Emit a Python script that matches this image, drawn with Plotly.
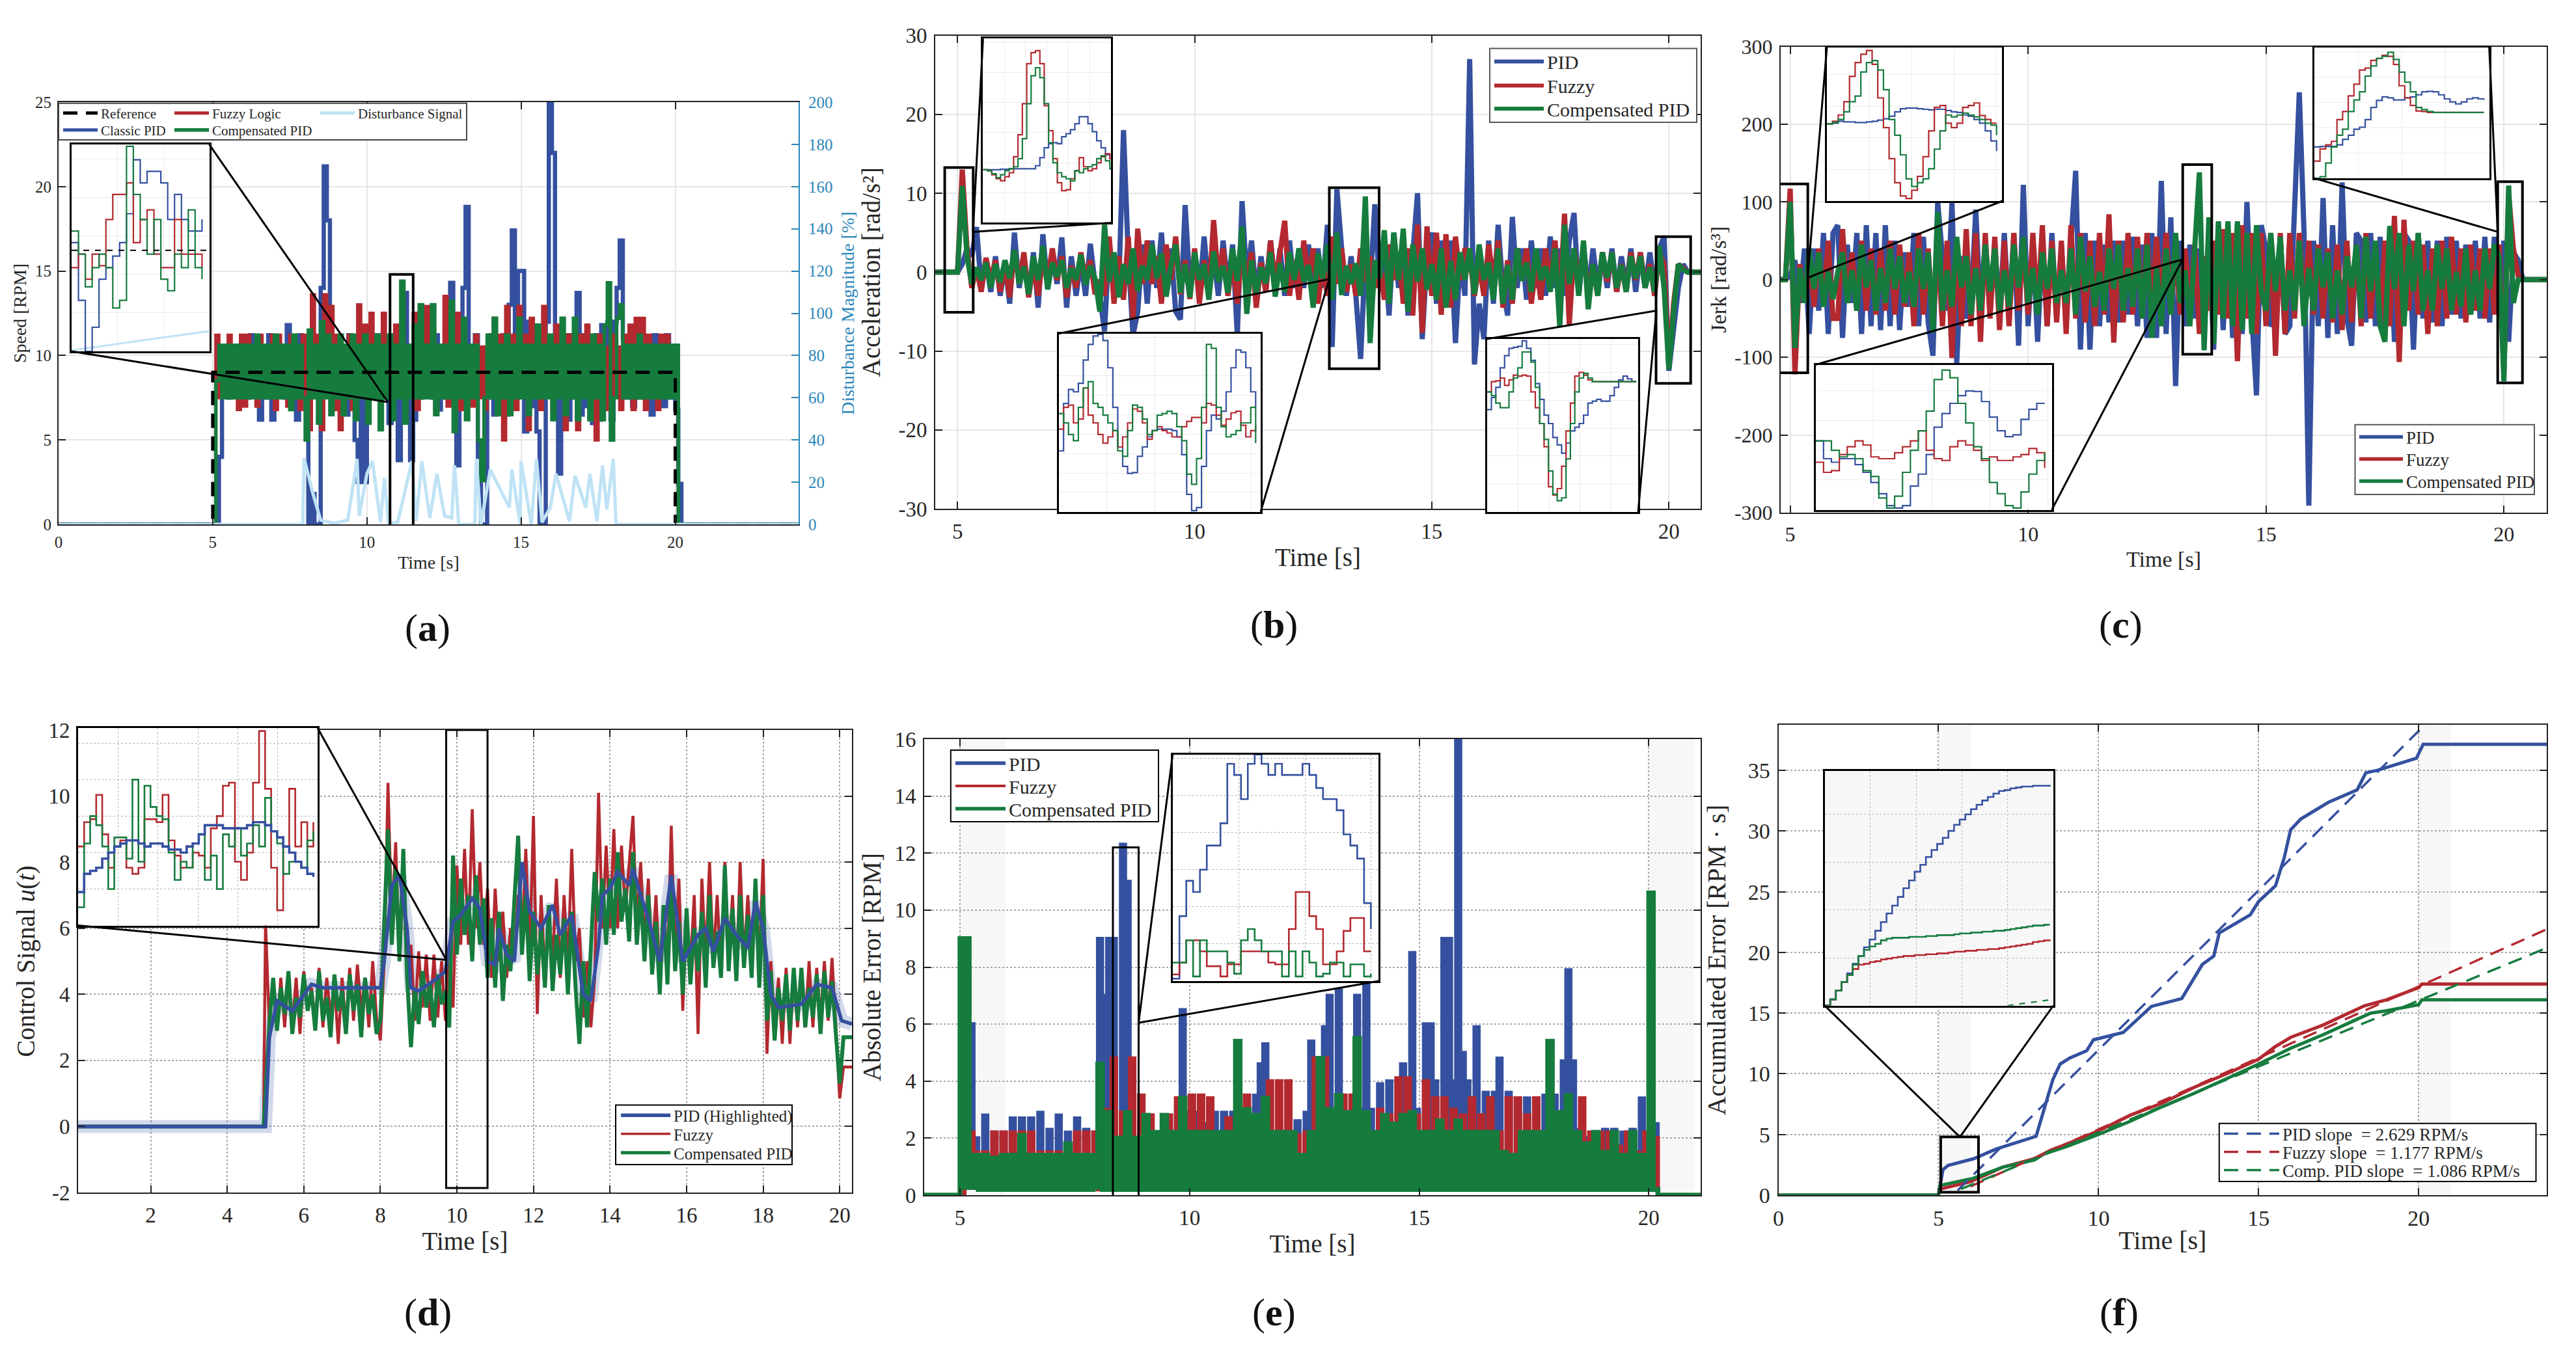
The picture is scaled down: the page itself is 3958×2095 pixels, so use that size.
import plotly.graph_objects as go

WIDTH, HEIGHT = 3958, 2095
BLUE, RED, GREEN = "#34509f", "#b3292f", "#167c3e"
SKY = "#bfe3f5"
AXIS_BLUE = "#2a86b9"
SHADE = "#f8f7f8"
FONT = "Liberation Serif"

# ---------- (a) speed, sampled every 0.1 s from t = 5 ----------
speed_pid = [
    0,0,4,9,10.5,7.5,9.7,8.2,10.5,7.5,
    10.5,7.5,11.2,8.1,10.5,6.2,10.5,7.5,11.2,6.2,
    10.5,8.1,10.5,7.5,11.8,7,10.5,6.2,11.2,7.5,
    9,0,1.8,0,0,14,21.2,18,9,7.5,
    10.5,8.1,10.5,6.5,11.2,7.5,5,2.5,9.5,2.5,
    10.5,7.5,11.2,8.1,11.2,7.5,10.5,6,11.2,7.5,
    3.8,11.2,13.7,7.5,3.8,6.2,10.5,7.5,11.2,8.1,
    10.5,7.5,11.2,6.8,10.5,7.5,11.2,14.3,7.5,3.5,
    8,14,18.8,9,7.5,11.2,4,0,0,7.5,
    11.2,6.5,10.5,7.5,11.2,6.5,13,17.4,7.5,15,
    15,5.5,12,7,11,5.5,0,0,12,25,
    22,9,3,7.5,11.2,6.2,11.2,7.5,13.7,6.5,
    11.2,7,10.5,6,11.2,6.2,11.8,7.5,12,6.2,
    12,14,16.8,11,7.5,11.2,7,10.5,7.5,11.2,
    7.5,10.5,6.5,11.2,7.5,10.5,7,11.2,7.5,10.5,
    6.8,2.4,0]
speed_fuzzy = [
    0,11.2,7.5,10.5,8,11.2,7.5,10.5,6.8,11.2,
    7,11.2,7.5,10.5,7,11.2,8,10.5,7.5,11.2,
    6.8,11.2,7.5,10.5,7,11.2,7.5,10.5,6.8,11.2,
    7.5,5.6,13.6,7.5,11.2,5.6,13.6,7.5,12.9,6.8,
    11.2,5.6,10.5,7.5,11.2,6.8,10.5,13,7.5,11.8,
    7,12.5,7.5,11.2,6.8,12.5,7.5,11.2,6.8,11.8,
    7.5,11.2,6.2,10.5,7.5,12.5,6.8,12.9,7.5,12.9,
    7.5,11.2,6.8,10.5,7.5,13.5,7,11.2,7.5,12.5,
    6.8,11.8,7.5,10.5,7,11.2,7.5,10.5,6.8,11.2,
    7.5,12.2,7,11.2,5,12.9,7.5,11.2,6.8,12.9,
    7.5,11.2,5.6,12.2,7.5,11.2,6.8,12.9,7.5,11.2,
    6.8,11.8,7.5,10.5,5.6,11.2,7.5,10.5,5.6,11.2,
    7.5,11.8,6.8,10.5,5,11.2,7.5,10.5,6.8,11.2,
    7.5,10.5,6.8,11.2,7.5,11.8,6.8,12.2,7.5,12.2,
    6.8,11.2,7.5,10.5,6.8,11.2,7.5,11.2,7.5,10.5,
    7.5,0,0]
speed_comp = [
    0,8.5,10.6,7.5,10.6,7.5,10.6,7.5,10.6,7.5,
    10.6,7.5,10.6,7.5,11.2,7.5,10.6,7.5,10.6,7.5,
    11.2,7.5,10.6,7.5,10.6,6.8,11.2,7.5,10.6,7.5,
    5,11.5,7.5,10.6,6,12,7.5,11.2,6.5,10.6,
    7.5,11.2,6.5,10.6,7.5,11.2,6.2,10.6,7.5,11.2,
    6,10.6,7.5,11.2,5.6,10.6,7.5,11.2,6.2,10.6,
    7.5,14.4,6,10.6,7.5,11.8,7.5,13,7.5,10.6,
    7.5,13,6.5,10.6,7.5,10.6,7.5,13.2,5.5,10.6,
    7.5,12.2,6.2,10.6,7.5,10.6,5,2.6,7.5,11.2,
    7.5,12.2,6.5,10.6,7.5,11.2,6.5,10.6,7.5,12.2,
    7.5,10.6,6.5,10.6,7.5,11.8,7.5,10.6,7.5,11.2,
    6.2,10.6,7.5,12.2,6.5,10.6,7.5,12.2,6.2,10.6,
    7.5,10.6,6.2,11.2,7.5,10.6,6.2,11.8,14.3,5,
    7.5,12.2,13,7.5,10.6,7.5,10.6,7.5,11.2,7.5,
    10.6,7.5,10.6,7.5,10.6,7.5,10.6,7.5,10.6,7.5,
    10.6,0,0]
reference_t = [0, 5, 5, 20, 20, 24]
reference_v = [0, 0, 9, 9, 0, 0]
disturbance_t = [0,7.92,7.96,8.26,8.5,8.93,9.38,9.68,9.75,10,10.18,10.44,10.57,10.7,11,11.46,11.6,11.78,12.04,12.27,
                 12.52,12.75,12.84,12.98,13.5,13.55,13.7,14,14.62,14.7,14.97,15,15.33,15.5,15.68,15.95,16.13,16.57,
                 16.75,17.1,17.23,17.46,17.64,17.78,17.99,18.08,24]
disturbance_v = [0,0,31.5,14,2,0.5,2,31,4,24,30,1,22,0.5,1,30,1.5,30,3,24,
                 4,3,28,0,0,31,0,26,8,26,0,30,0,31,1,8,24,1.5,
                 23,8,24,1.5,28,7,31,0,0]
inset_a_pid = [9.4,6.4,3.75,5,7.5,8.1,8.7,9.4,10.9,13.7,12.5,13.1,13.1,12.5,10.6,11.9,10.6,10,10,10.6]
inset_a_fuzzy = [8.1,8.8,7.5,8.8,8.2,10.6,11.9,11.9,12.5,9.4,10.6,11.1,8.8,8.1,8.1,10.6,8.8,8.8,8.8,8.1]
inset_a_comp = [10,8.8,7.1,8.1,8.8,8.1,6,6.4,14.4,11.9,10.6,8.8,10.6,7.5,6.9,8.8,8.1,11.1,8.1,7.5]

# ---------- (b) acceleration ----------
accel_pid = [
    0,1,3,2,5.7,-2,1.5,-2.5,2,-3,
    1,-4,5,-2,1.5,-3,2.5,-4.5,4.8,-2,
    2,-1.5,4.4,-4.5,2,-3,1.5,-3,3.6,-1.5,
    -3,-7.5,4,-3,-2,18,2,-8,-5,3.5,
    -4,4,-2,5,-3,3,-5,-6,8.5,-2,
    2,-3,4.5,-2.5,2,-3,4,-2,3.5,-8,
    9,-1,4,-3,2,-2.5,4,-2,3,-3,
    4,-2,3,-2,3.5,-2,3,-2,6,-9.5,
    10.5,3,-3,2,-3,-11,2,-2,8.6,-2,
    3,-5.5,5,-2,4,-5.5,2,10,-8.5,2,
    5,-4,4,-3,4,-9,2,-3,27,-11.7,
    -4,-8.5,4,-4,6,-2,-5.5,7,-2,3,
    -3.5,4,-2,3,-3,4.5,-2,3,-3,4,
    7.5,-3,3.5,-2.5,3,-2,2.5,-2,3,-2.5,
    2,-2,3,-2.5,2.5,-2,2.5,-2.5,3,4.5,
    -12.5,-7,-2,1,0]
accel_fuzzy = [
    0,13,3,-2,0.5,-2.5,1.8,-1,1.5,-2.5,
    1,-3.2,2.8,-1.2,2.5,-3.2,1,-3,2,-1,
    3,-1,2,-3.2,0.8,-2,2.5,-1,1.5,-2.8,
    -1,-3,4.5,-4,2,-3.5,4.5,-6,5.5,-1.5,
    4,-1.5,2,-4,3.5,-1,4.5,-2.8,1.5,-3.4,
    3,-4,1.5,-3,6.6,-1,3,-3,1.5,-4,
    3,-1,2.5,-4.5,1.2,-2.5,4,-1.5,3,6.5,
    -3,1.5,-3.5,4,-1,3,-4,1,-3,4.5,
    -1.5,3,-2.5,1,-3,3,-1.2,2,-2,1,
    -3.5,3.5,-1,2.5,-4,3,-5.5,6,-7.7,5.8,
    -3,5,-5.4,4.8,-4.5,4.5,-1,3,2,-3,
    1,-3,3.5,-1.2,4,-4.5,1.5,-4,3,-1,
    3,-4,1,-3.5,3,-1.5,4,-4,7.4,-6.7,
    3,-1,3,-3,1,-3,2.5,-1.2,2.5,-2.5,
    1,-2.5,2.5,-1,2.5,-2,1,-3,2.5,1,
    -12,-4,1,0.5,0]
accel_comp = [
    0,10.9,2,-1.5,0.6,-1,1.2,-2,1,-1.3,
    1.5,-0.8,2.8,-1.5,0.7,-2.8,2,-1,3.3,-2.2,
    1.2,-0.6,1.5,-2,0.5,-1,2.2,-1.6,0.8,-0.8,
    -5,6,-1.2,2.5,-3.2,1,-1.5,3,-2.4,0.8,
    -1,3.5,-0.8,2.4,-3.1,0.9,3.5,-2.6,1,-3.2,
    2.5,-1,1,-3.5,2.6,-1.2,0.8,-2.6,3,-1.1,
    5.8,-5.3,1.5,-2.8,0.6,-1.4,2.5,-3.1,1.1,-2.5,
    2.5,-1,3,-1.2,0.9,-4.5,2.4,-0.8,3.5,-3.5,
    5,-2.9,0.8,-1.5,1.1,-3,9.6,-9,1.5,-0.8,
    5.3,-4,5,-1,5.5,-5,3.5,-1.2,3,-2.2,
    1,-3.5,3,-4.5,1.4,-3.5,2.5,-1,3,-2.8,
    3.5,-1,1.2,-3.5,3,-4,0.9,-3.5,3,-1.1,
    1.2,-2.5,3,-1,0.7,-2.5,3,-7,6,-1.5,
    3,-3,4,-4.7,1,-3,2.5,-0.7,2.5,-2,
    0.9,-2.5,2,-0.8,2,-2,0.6,-2.5,3.3,-2.1,
    -12.3,-5,1,0.3,0]
inset_b1_pid = [0,0,0,0,0.05,0.05,0.1,0.1,0.1,0.1,0.1,0.1,0.4,1.2,2.2,2.6,2.7,2.6,3.3,3.6,4,4.6,5.3,5.3,4.6,3.8,2.9,2.2,1.5,1.3]
inset_b1_fuzzy = [0,-0.1,-0.5,-0.9,-1.1,-0.7,-0.3,1.3,3.5,6.6,10.6,11.7,11.9,10.6,6.4,3.9,1.1,-1.3,-2.1,-2,-0.9,-0.1,1.2,0.3,-0.1,0.1,0.7,1.3,1.6,1.1,-0.1]
inset_b1_comp = [0,-0.1,-0.4,-0.8,-0.5,-0.1,0.1,0.3,1.1,3.1,6.6,9.4,10.2,9.2,6.6,2.7,0.7,-0.3,-0.7,-0.9,-1.1,-0.1,-0.3,0.1,0.3,0.5,1.1,1.4,0.9,0.1,-1.3]
inset_b2_pid = [-4.4,1.7,3.5,3.2,4.3,7.3,9.3,10.4,10.6,9.8,6.3,1.2,-3.9,-6.4,-7.3,-7.2,-5.1,-3.9,-2.6,-1.8,-1.6,-1.6,-1.6,-1.8,-2.6,-4.9,-10,-12.1,-11.7,-6.4,-1.8,0.2,-0.3,0.7,3.2,6.3,8.6,8.3,6.3,3.2,1.2]
inset_b2_fuzzy = [-1.6,1.2,1.5,-0.8,-0.3,3.7,0.2,-0.8,-2.3,-3.4,-2.6,-1.8,-3.9,-2.6,-0.8,1,0.7,-0.8,-2.9,-1.8,-1.3,-1.8,-2.1,-2.6,-2.6,-1.3,-0.6,-0.1,-0.1,-0.8,1.7,1.5,0.2,-1.1,-0.3,0.5,0.7,-1.1,-2.6,-1.8,-1.1]
inset_b2_comp = [0.4,-0.8,-2.3,-3.1,1.2,3.7,4.5,1.7,1.2,0.2,-0.8,-1.8,-4.4,-5.1,-1.8,1.5,1.2,-0.3,-2.3,-1.8,0.2,0.4,0.7,0.4,-1.3,-3.1,-7.4,-8.7,-5.4,1.2,9.3,8.8,1.2,-1.3,-2.6,-2.3,-1.8,-0.8,-0.8,1.2,-3.4]
inset_b3_pid = [-3.1,-1.8,-0.7,1.4,2.7,3.5,3.6,3.7,4.3,3.5,2.2,-0.3,-2,-3.7,-4.6,-6.1,-6.9,-7.8,-6.7,-5.4,-5,-4.6,-3.7,-2.4,-2.2,-2,-2.2,-2.2,-1.6,-0.7,0.1,0.5,0.2,-0.1,-0.1]
inset_b3_fuzzy = [-1.2,-0.1,0,0.3,-0.5,0.1,0.6,0.5,0.6,0.5,-1.2,-2.9,-4.6,-7.1,-11.4,-12.3,-11.6,-9.2,-5.4,-2.4,0.5,0.9,0.6,0.1,-0.1,-0.1,-0.1,-0.1,-0.1,-0.1,-0.1,-0.1,-0.1,-0.1,-0.1]
inset_b3_comp = [-1.2,-1.6,-2.4,-2.9,-2.9,-1.2,0.3,1.4,3.1,3.1,2,-0.7,-4.6,-6.3,-9.7,-12.2,-12.9,-12.6,-8.4,-4.6,-1.2,0.3,0.8,0.3,-0.1,-0.1,-0.1,-0.1,-0.1,-0.1,-0.1,-0.1,-0.1,-0.1,-0.1]

# ---------- (c) jerk ----------
jerk_pid = [
    5,25,-30,40,-70,40,-40,60,-70,60,
    70,-75,45,-30,60,-70,70,-60,60,-65,
    70,-60,50,-65,35,-35,60,-60,55,-55,
    -98,100,30,-40,100,-108,30,-50,-35,90,
    -40,50,-45,45,-50,60,-50,60,-85,122,
    -60,50,-80,50,-60,60,-50,40,-45,55,
    140,-90,60,-90,50,-60,45,-55,50,-55,
    50,-45,55,-60,45,-75,60,-75,127,-70,
    80,-137,50,-60,45,-50,40,-45,60,-90,
    70,-65,60,-75,70,-70,100,-45,-149,70,
    40,-60,-50,55,-70,-60,95,241,60,-291,
    50,-60,105,-75,70,-70,125,-50,-85,60,
    50,-55,60,-60,55,-60,60,-80,-50,60,
    50,-90,60,-50,50,-55,50,-60,55,-45,
    50,-50,45,-45,50,-50,55,-55,55,-45,
    50,-80,35,25,0]
jerk_fuzzy = [
    117,-122,20,-30,30,-35,40,-30,50,-50,
    -50,65,-30,35,-40,50,-40,40,-45,40,
    -40,50,-45,45,-35,35,-60,60,-45,40,
    -60,40,-60,50,-101,50,-60,65,-60,60,
    -80,60,-50,55,-65,50,-60,60,-40,50,
    -45,60,-40,70,-60,50,-55,50,-70,70,
    -50,60,-55,50,-60,60,-45,84,-81,50,
    -55,60,-45,55,-50,60,-40,55,-45,60,
    -40,35,-45,40,-35,45,-70,30,-40,50,
    -45,65,-50,60,-105,70,-50,60,-70,60,
    -60,60,-98,60,-70,60,-50,60,-40,50,
    -45,45,-50,40,-55,45,-65,50,-55,45,
    -60,60,-50,45,-60,50,-60,82,-106,77,
    -40,50,-45,45,-70,40,-60,50,-50,55,
    -45,40,-55,45,-40,40,-50,40,-45,45,
    -120,110,40,5,0]
jerk_comp = [
    100,-88,15,-30,40,-12,35,-35,10,-25,
    10,35,-30,12,-40,45,-10,25,-40,15,
    -30,40,-12,30,-30,10,-35,40,-12,35,
    -68,87,-40,12,-35,55,-10,30,-45,15,
    -40,45,-15,40,-40,12,-35,45,-10,55,
    -30,15,-45,35,-12,40,-30,12,-30,40,
    -45,55,-15,30,-35,10,-40,40,-12,45,
    -40,15,-35,40,-50,45,-75,15,-60,40,
    -45,60,-30,12,-60,50,138,-91,80,-83,
    75,-50,75,-60,75,-65,60,-70,70,-15,
    -40,60,-15,55,-40,12,-40,50,-60,15,
    -40,40,-10,35,-50,12,-45,30,-10,45,
    -50,55,-15,50,-60,-80,69,-12,60,-60,
    45,-15,60,-40,12,-40,45,-12,40,-40,
    10,-35,40,-45,12,-40,40,-12,45,30,
    -131,121,-30,0,0]
inset_c1_pid = [2,3,6,5,5,4,4,5,6,8,10,14,21,26,27,27,26,25,24,25,25,23,21,20,16,14,9,3,-9,-25,-41]
inset_c1_fuzzy = [2,6,16,37,77,99,112,118,96,43,-4,-53,-91,-112,-116,-103,-81,-50,-9,28,31,3,-4,3,28,31,35,15,9,3,3]
inset_c1_comp = [2,4,9,21,37,46,84,99,102,87,56,9,-16,-47,-85,-97,-91,-85,-69,-38,-9,16,13,16,19,16,13,9,3,0,-16]
inset_c2_pid = [20,-10,-16,-10,-10,-20,-33,-50,-69,-89,-93,-89,-56,-36,-3,43,66,83,96,104,103,86,60,37,27,30,56,73,83,83]
inset_c2_fuzzy = [-16,-33,-30,-3,10,20,13,-7,-10,-10,0,10,20,37,4,-10,-13,10,20,13,4,-13,-7,-13,-13,-7,-3,7,0,-26]
inset_c2_comp = [20,20,4,-7,-3,-10,-30,-40,-76,-93,-73,-33,4,37,70,123,139,126,83,50,10,-10,-50,-69,-89,-93,-66,-36,-13,0]
inset_c3_pid = [-71,-70,-70,-70,-67,-56,-48,-36,-32,-17,7,21,28,26,22,22,26,28,32,38,39,38,32,24,18,14,18,24,26,24,22]
inset_c3_fuzzy = [-99,-75,-67,-60,-17,-1,30,53,81,85,100,104,110,108,92,50,26,11,0,-1,-3,-3,-3,-3,-3,-3,-3,-3,-3,-3,-3]
inset_c3_comp = [-133,-130,-103,-71,-48,-36,-1,22,38,69,89,104,108,116,102,77,57,38,7,3,-1,-3,-3,-3,-3,-3,-3,-3,-3,-3,-3]

# ---------- (d) control signal ----------
control_pid_t = [0.1,4.95,5,5.1,5.3,5.7,6,6.2,6.5,8,8.1,8.3,8.5,8.7,8.8,9,9.5,9.7,9.9,10.1,10.4,10.6,10.8,11,11.1,11.3,11.5,11.7,11.9,
                 12.2,12.5,12.7,13,13.3,13.5,13.7,13.8,14,14.2,14.5,14.6,14.8,15,15.3,15.6,15.9,16.3,16.5,16.7,17,17.3,17.6,17.8,18,
                 18.2,18.4,19,19.4,19.8,20.05,20.32]
control_pid = [0,0,0,2.7,3.8,3.5,4,4.3,4.2,4.2,5,7.3,7.6,6,4.2,4.1,4.5,4.7,6.2,6.4,6.9,6.6,5,4.9,6,5.2,5,8,6.5,
               6,6.7,5.8,6.4,4,3.8,5.5,7,7.2,7.7,7.3,7.8,7,6.3,5,7.6,5,5.8,6,5.3,6.3,5.8,5.4,6.8,6,
               4,3.6,3.7,4.3,4.2,3.2,3.1]
control_fuzzy = [
    6.2,3,4.4,2.9,4.5,3,4.6,3,4.5,2.8,
    4.7,3.5,4.2,3.2,4.8,3,4.5,3.3,4.4,2.5,
    4.5,3,4.8,3.2,4.9,3.5,4.5,3,5,3.3,
    2.6,5,10.4,6,8.6,5,7.5,4.5,5.5,3.2,
    5.3,3.6,5.2,3.2,5.2,3.3,5,3.2,5,3.6,
    7.9,5.5,8.4,5.5,9.6,6,8,5.5,7.2,4.5,
    7.2,5,6.5,4.5,6,5,7,5.5,8.4,5,
    9.4,3.4,7,4.5,6.5,5,7.5,4.5,7,4.8,
    8.4,5,6,3.3,5,3,4.5,10.1,6,8.5,
    6,9,6,8.5,6.5,8,9.4,6,8,5.5,
    7.5,5,7,4.5,6.5,4.8,9.1,5,7.5,3.5,
    6.5,4.8,7,2.8,7.5,5,8,5,7,4.5,
    8,5,7,4.5,8,5,7,4.8,7,5,
    8.1,2.2,5,3,4.5,2.5,4.8,2.5,4.6,3,
    4.7,3,5,3,4.8,3.2,5,3.2,5.1,3,
    0.85,1.8]
control_comp = [
    1,3.1,4.5,2.9,4.2,3.4,4.7,2.8,3.9,3.3,
    4.6,3.5,4.1,2.9,4.7,3.2,3.9,2.7,4.6,3.5,
    4.1,2.8,4.6,3.5,4.3,2.7,4.5,3.4,4,2.8,
    3.2,6.2,9,5.5,7.8,5,8.4,4.5,2.4,4.2,
    3.1,4.7,3.6,4.3,3,4.6,3.7,4.1,3,8.2,
    5.2,7.5,5.8,7,5,7.6,5.5,6.9,4.5,6.3,
    4.2,6.5,3.8,5.5,4.7,6.8,8.8,5.2,7,4.4,
    6.5,4.6,6,4.2,6.7,4.1,5.8,4.6,6.3,4,
    6.5,4.2,2.5,5,3,5.4,7.7,6.2,7.5,5.5,
    7.5,5.8,8.3,6.2,7.2,5.6,8.3,5.5,7.1,5,
    7,4.6,6.2,4,6.7,4.3,7.5,4.7,6.2,4,
    6.6,4.3,6,4.7,6.5,4.2,7,4.8,5.9,4.5,
    7.9,4.7,6.6,4.4,7,4.8,6.4,4.5,7.5,4.2,
    7,3.2,4.7,2.6,4.2,3.2,4.6,2.9,4.8,3.2,
    4.8,3,4.2,3.3,4.6,2.8,4.7,3.3,4.4,2.8,
    1.3,2.7]
inset_d_pid = [4.6,5.2,5.3,5.4,5.7,5.9,6.1,6.2,6.3,6.3,6.2,6.1,6.2,6.2,6.1,6,6,5.9,6.1,6.2,6.5,6.8,6.8,6.8,6.7,6.7,6.7,6.7,6.8,6.9,6.9,6.8,6.6,6.4,6.1,5.9,5.6,5.4,5.2,5.1]
inset_d_fuzzy = [6.1,6.9,7,7.8,6.5,5.4,6.1,6.3,5.4,5.2,5.4,7,7,6.9,7.8,6.3,5.8,5.4,5.4,5.9,5.8,5.4,6.7,7.1,8.1,8.2,5.6,5,5.9,8.2,9.9,8,5.4,4,6.1,8,6.1,6.9,6.1,6.9]
inset_d_comp = [4.1,6.2,7.1,6.8,6.1,4.7,6.4,6.4,5.7,8.3,5.6,8.1,7.4,7.1,7,5.9,5,5.6,5.4,6.2,6.5,5,5.8,4.7,6.5,6.1,6.7,5.8,6.2,6.8,6.1,7.7,6.6,6.2,5.2,5.6,5.6,5.4,6.3,6.6]

# ---------- (e) absolute error ----------
error_pid = [
    9,9,6,2,0.3,2.8,0.3,2.2,0.3,2.2,
    0.3,2.7,0.3,2.7,0.3,2.7,0.3,2.9,0.3,2.3,
    0.3,2.8,0.3,2.2,0.3,2.7,0.3,2.3,0.3,2.2,
    9,7,9,9,2,12.3,11,4,0.3,2.5,
    0.3,2.2,0.3,2.2,0.3,2.3,0.3,3,6.5,2.9,
    0.3,2.9,0.3,2.5,0.3,2.9,0.3,2.9,0.3,2.9,
    5.3,2,3,0.3,3.5,4.6,5.3,2,0.3,2.5,
    0.3,2.4,0.3,2.6,0.3,2.9,5.4,1,4,5.9,
    7,3,7.2,3,1,2.5,7,3,7.4,3,
    1,3.9,0.3,4,0.3,4,4.6,2,8.5,3,
    0.3,6,6,4,1,9,9,4,16,5,
    4,0.5,5.9,2,3.6,1.5,3.6,4.8,1,3.6,
    0.3,3.4,0.3,3.4,0.3,3.4,0.3,3.5,1,3.5,
    1,4.7,7.9,4.7,2.3,0.3,2,0.3,2.2,0.3,
    2.3,0.3,2.3,0.3,2.2,0.3,2.3,0.3,3.4,0.3,
    3,2.5,0]
error_fuzzy = [
    0,8,2.2,1.5,0.2,1.5,0.2,2.2,0.2,2.2,
    0.2,2.2,0.2,2.2,0.2,2.2,0.2,1.5,0.2,1.5,
    0.2,1.5,0.2,1.5,0.2,2.2,0.2,2.2,0.2,2.2,
    0.2,3,0.2,4.8,0.2,2.9,0.2,4.8,0.2,3.5,
    0.2,2.8,0.2,2.2,0.2,2.8,0.2,3.4,0.2,2.6,
    3.5,0.2,3.5,0.2,3.4,0.2,2.2,0.2,2.7,0.2,
    2.7,0.2,3.5,0.2,2.8,0.2,3,4,0.2,4,
    0.2,4,0.2,2.1,0.2,2.2,0.2,4.8,0.2,4.8,
    0.2,2.3,0.2,3.5,0.2,3.5,0.2,2.8,0.2,2.1,
    0.2,3,0.2,2.8,0.2,4.1,0.2,4.1,0.2,2.8,
    0.2,4,0.2,3.4,0.2,3.4,0.2,3,0.2,2.8,
    0.2,3.4,0.2,2.8,0.2,3.4,0.2,2.2,0.2,3.4,
    0.2,3.4,0.2,2.8,0.2,3.4,0.2,2.2,0.2,2.9,
    0.2,2.9,0.2,2.2,0.2,3.4,0.2,2.2,0.2,2.2,
    0.2,2.2,0.2,1.7,0.2,2.2,0.2,1.5,0.2,2.2,
    8,2,0]
error_comp = [
    9,9,1,1.4,0.2,1.4,0.2,1.3,0.2,1.4,
    0.2,1.4,0.2,2.1,0.2,1.4,0.2,1.4,0.2,1.4,
    0.2,1.4,0.2,1.8,0.2,1.4,0.2,1.4,0.2,1.4,
    4.6,0.2,2.9,0.2,2,0.2,2.9,0.2,2,0.2,
    2.8,0.2,2.2,0.2,2.8,0.2,2.2,0.2,3.4,0.2,
    2.2,0.2,2.2,0.2,2.2,0.2,2.2,0.2,2.2,0.2,
    5.4,0.2,3,0.2,2.8,0.2,3.4,0.2,2.2,0.2,
    2.2,0.2,2.2,0.2,1.4,0.2,2.2,0.2,4.8,0.2,
    3,0.2,3.5,0.2,2.9,0.2,5.5,0.2,2.9,0.2,
    2.2,0.2,2.8,0.2,2.5,0.2,2.8,0.2,2.9,0.2,
    2.2,0.2,2.2,0.2,2.6,0.2,2.2,0.2,2.6,0.2,
    2.2,0.2,2.2,0.2,2.2,0.2,2.2,0.2,1.5,0.2,
    1.4,0.2,2.2,0.2,2.2,0.2,2.2,0.2,5.4,0.2,
    2.9,0.2,3.5,0.2,2.2,0.2,1.8,0.2,2.2,0.2,
    1.5,0.2,2.2,0.2,1.4,0.2,2.2,0.2,1.4,0.2,
    10.6,0.2,0]
error_floor = 0.2
inset_e_pid = [0.13,3.5,5.4,4.8,6,7.3,7.3,8.5,11.7,11.1,9.8,11.7,12.2,11.7,11.1,11.7,11.1,11.1,11.1,11.7,11.1,10.4,9.8,9.8,9.2,7.9,7.3,6.6,4.2,2.8]
inset_e_fuzzy = [0.36,1,2.2,2.2,1.6,0.8,0.8,0.25,0.9,0.9,1.6,1.6,1.6,1.6,1,0.9,0.9,2.8,4.8,4.8,3.5,2.8,0.9,0.9,1.6,2.7,3.4,3.4,1.6,1.6]
inset_e_comp = [1,1,2.2,0.25,2.2,1.6,1.6,1.6,1,0.4,2.2,2.8,2.2,1.6,1.6,1.6,0.25,1.6,0.25,1.6,1,0.25,0.4,1,1,0.25,0.9,0.9,0.25,0.4]

# ---------- (f) accumulated error and fitted slopes ----------
accum_pid_t = [0,5,5.14,5.3,6.1,6.8,8.05,8.3,8.57,8.8,9.1,9.63,9.84,10.77,11.65,12.6,13.24,13.6,13.77,14.74,15,15.53,15.8,16,16.32,17.2,18.08,18.35,18.7,19.93,20.14,24]
accum_pid = [0,0,2.1,2.45,3,3.8,4.85,7,9.5,10.8,11.3,11.9,12.8,13.4,15.55,16.2,19,19.7,21.6,23.1,24.2,25.5,27.8,30.1,31,32.4,33.4,34.8,35,36,37.15,37.15]
accum_fuzzy_t = [0,5,5.05,6,7,8,8.5,9,10,11,12,13,14,15,15.5,16,17,18,18.3,19,20,20.1,24]
accum_fuzzy = [0,0,0.5,1.1,2.3,3,3.7,4.2,5.3,6.6,7.6,8.9,10,11.2,12.2,13,14,15.2,15.6,16.1,17.1,17.4,17.4]
accum_comp_t = [0,5,5.05,6.1,7,8,8.3,9,10,11,12,13,14,15,16,17,18,18.5,19,20,20.1,24]
accum_comp = [0,0,0.8,1.4,2.3,2.9,3.4,4,5,6.1,7.3,8.4,9.6,10.8,12.1,13.2,14.4,15,15.2,15.7,16.1,16.1]
slope_pid, slope_fuzzy, slope_comp = 2.629, 1.177, 1.086
onset_pid, onset_fuzzy, onset_comp = 5.45, 5.39, 5.24
fit_pid_t = [5.6, 20.4]
fit_fuzzy_t = [6, 24]
fit_comp_t = [5.7, 24]
inset_f_pid = [0.5,0.57,0.67,0.77,0.87,0.98,1.07,1.17,1.26,1.36,1.46,1.56,1.65,1.75,1.85,1.94,2.04,2.12,2.21,2.29,2.36,2.43,2.51,2.58,2.64,2.7,2.76,2.81,2.86,2.9,2.94,2.97,2.98,3,3.01,3.02,3.02,3.03,3.03,3.03,3.04]
inset_f_fuzzy = [0.5,0.57,0.67,0.77,0.85,0.92,0.97,0.98,1,1.01,1.03,1.04,1.05,1.06,1.07,1.07,1.08,1.08,1.09,1.09,1.1,1.1,1.11,1.12,1.12,1.13,1.13,1.14,1.14,1.15,1.15,1.16,1.17,1.18,1.19,1.2,1.21,1.23,1.24,1.25,1.26]
inset_f_comp = [0.5,0.57,0.67,0.77,0.85,0.97,1.07,1.14,1.18,1.21,1.25,1.27,1.28,1.28,1.28,1.29,1.29,1.29,1.3,1.3,1.31,1.31,1.31,1.32,1.33,1.33,1.34,1.34,1.35,1.35,1.36,1.36,1.37,1.38,1.39,1.4,1.41,1.42,1.42,1.43,1.43]
inset_f_fit_t = [5.85, 6.05]
inset_f_fit = [0.5, 0.57]

fig = go.Figure()
layout_axes = {}
legends = {}
shapes = []
annotations = []


def grid(start, step, values):
    return [round(start + step * i, 4) for i in range(len(values))]


def paper_x(x):
    return x / WIDTH


def paper_y(y):
    return 1 - y / HEIGHT


def line(x, y, color, width, axes=("x", "y"), name=None, key=None, dash=None, shape="linear"):
    fig.add_trace(go.Scatter(
        x=x, y=y, mode="lines", xaxis=axes[0], yaxis=axes[1],
        line=dict(color=color, width=width, dash=dash, shape=shape),
        name=name, showlegend=key is not None, legend=key or "legend", hoverinfo="skip"))


def key_only(color, width, name, key):
    # Legend entry with its own stroke, thinner than the heavy curve it stands for
    fig.add_trace(go.Scatter(x=[None], y=[None], mode="lines", line=dict(color=color, width=width),
                             name=name, legend=key, hoverinfo="skip"))


def main_axes(n, box, xr, yr, xticks, yticks, xtitle, ytitle, grid_style, size, title_size, xoff, yoff):
    left, top, right, bottom = box
    suffix = "" if n == 1 else str(n)
    common = dict(showline=True, linecolor="#222222", linewidth=2, mirror="ticks", ticks="inside",
                  ticklen=11, tickwidth=2, tickcolor="#222222", zeroline=False, showgrid=True,
                  tickfont=dict(family=FONT, size=size, color="#262626"), tickmode="array",
                  ticklabelstandoff=4, **grid_style)
    layout_axes["xaxis" + suffix] = dict(
        common, domain=[paper_x(left), paper_x(right)], anchor="y" + suffix, range=xr,
        tickvals=xticks, ticktext=[str(v) for v in xticks],
        title=dict(text=xtitle, standoff=xoff, font=dict(family=FONT, size=title_size, color="#262626")))
    layout_axes["yaxis" + suffix] = dict(
        common, domain=[paper_y(bottom), paper_y(top)], anchor="x" + suffix, range=yr,
        tickvals=yticks, ticktext=[str(v) for v in yticks],
        title=dict(text=ytitle, standoff=yoff, font=dict(family=FONT, size=title_size, color="#262626")))


def inset_axes(n, frame, xr, yr, xstep, ystep, grid_color="#ececec", dash="solid"):
    left, top, right, bottom = frame
    common = dict(showline=True, linecolor="#000000", linewidth=3, mirror=True, ticks="", showticklabels=False,
                  zeroline=False, showgrid=True, gridcolor=grid_color, gridwidth=1, griddash=dash, tickmode="linear")
    layout_axes[f"xaxis{n}"] = dict(common, domain=[paper_x(left), paper_x(right)], anchor=f"y{n}", range=xr,
                                    tick0=xr[0], dtick=xstep)
    layout_axes[f"yaxis{n}"] = dict(common, domain=[paper_y(bottom), paper_y(top)], anchor=f"x{n}", range=yr,
                                    tick0=yr[0], dtick=ystep)


def source_box(n, xr, yr, width=4):
    suffix = "" if n == 1 else str(n)
    shapes.append(dict(type="rect", xref="x" + suffix, yref="y" + suffix, x0=xr[0], x1=xr[1], y0=yr[0], y1=yr[1],
                       line=dict(color="black", width=width), layer="above"))


def connector(start, end, width=3):
    shapes.append(dict(type="line", xref="paper", yref="paper",
                       x0=paper_x(start[0]), y0=paper_y(start[1]), x1=paper_x(end[0]), y1=paper_y(end[1]),
                       line=dict(color="black", width=width), layer="above"))


def shade(n, x0, x1):
    shapes.append(dict(type="rect", xref=f"x{n}", yref=f"y{n} domain", x0=x0, x1=x1, y0=0, y1=1,
                       fillcolor=SHADE, line=dict(width=0), layer="below"))


def panel_label(letter, x, y):
    annotations.append(dict(text=f"(<b>{letter}</b>)", xref="paper", yref="paper", x=paper_x(x), y=paper_y(y),
                            showarrow=False, xanchor="center", yanchor="middle",
                            font=dict(family=FONT, size=60, color="#111111")))


def key_frame(left, top, right, bottom, color):
    shapes.append(dict(type="rect", xref="paper", yref="paper", x0=paper_x(left), x1=paper_x(right),
                       y0=paper_y(top), y1=paper_y(bottom), fillcolor="white",
                       line=dict(color=color, width=2), layer="above"))


def key_entry(x, y, size, swatch):
    """One legend row, placed on its own so that row spacing can follow the drawing."""
    name = "legend" if not legends else f"legend{len(legends) + 1}"
    legends[name] = dict(x=paper_x(x), y=paper_y(y), xanchor="left", yanchor="middle", bgcolor="rgba(0,0,0,0)",
                         borderwidth=0, font=dict(family=FONT, size=size, color="#262626"), itemwidth=swatch)
    return name


LIGHT = dict(gridcolor="#e6e6e6", gridwidth=1.5)
DOTTED = dict(griddash="dot", gridcolor="#a8a8a8", gridwidth=1.5)
LONG_DASH = "22px,13px"

# ---------- (a) ----------
main_axes(1, (90, 157, 1227, 806), [0, 24], [0, 25], [0, 5, 10, 15, 20], [0, 5, 10, 15, 20, 25],
          "Time [s]", "Speed [RPM]", LIGHT, 25, 28, 8, 5)
layout_axes["yaxis20"] = dict(
    overlaying="y", side="right", anchor="x", range=[0, 200], tickmode="array",
    tickvals=list(range(0, 201, 20)), ticktext=[str(v) for v in range(0, 201, 20)], showgrid=False, zeroline=False,
    showline=True, linecolor=AXIS_BLUE, linewidth=2, ticks="inside", ticklen=11, tickcolor=AXIS_BLUE, tickwidth=2,
    tickfont=dict(family=FONT, size=25, color=AXIS_BLUE), ticklabelstandoff=8,
    title=dict(text="Disturbance Magnitude [%]", standoff=14, font=dict(family=FONT, size=28, color=AXIS_BLUE)))
key_frame(90, 158.7, 717, 215, "#444444")
onset_a = [0, 4.9]
line(onset_a + grid(5, 0.1, speed_pid) + [24], [0, 0] + speed_pid + [0], BLUE, 6.5, shape="hv")
key_only(BLUE, 5, "Classic PID", key_entry(92, 200, 21, 53))
line(onset_a + grid(5, 0.1, speed_fuzzy) + [24], [0, 0] + speed_fuzzy + [0], RED, 5, shape="hv",
     name="Fuzzy Logic", key=key_entry(263, 174, 21, 53))
line(onset_a + grid(5, 0.1, speed_comp) + [24], [0, 0] + speed_comp + [0], GREEN, 5.5, shape="hv",
     name="Compensated PID", key=key_entry(263, 200, 21, 53))
line(reference_t, reference_v, "black", 5, dash=LONG_DASH, name="Reference", key=key_entry(92, 174, 21, 53))
line(disturbance_t, disturbance_v, SKY, 5, axes=("x", "y20"), name="Disturbance Signal", key=key_entry(487, 174, 21, 53))
source_box(1, [10.75, 11.5], [-0.1, 14.8])
inset_axes(7, (110, 222, 321.5, 540), [10.75, 11.5], [3.75, 14.5], 0.25, 2)
x7 = grid(10.75, 0.0374, inset_a_pid)
line([10.75, 11.5], [3.8, 4.8], SKY, 3, axes=("x7", "y7"))
line(x7, inset_a_pid, BLUE, 2.2, axes=("x7", "y7"), shape="hv")
line(x7, inset_a_fuzzy, RED, 2.2, axes=("x7", "y7"), shape="hv")
line(x7, inset_a_comp, GREEN, 2.2, axes=("x7", "y7"), shape="hv")
line([10.75, 11.5], [9, 9], "black", 2, axes=("x7", "y7"), dash="dash")
connector((321.5, 222), (596, 618))
connector((110, 540), (596, 618))

# ---------- (b) ----------
main_axes(2, (1437, 54.5, 2613, 782), [4.53, 20.67], [-30, 30], [5, 10, 15, 20], list(range(-30, 31, 10)),
          "Time [s]", "Acceleration [rad/s\u00b2]", LIGHT, 33, 39, 9, 16)
key_frame(2289, 74.5, 2607, 188, "#555555")
for values, color, label, row in ((accel_pid, BLUE, "PID", 94.5), (accel_fuzzy, RED, "Fuzzy", 131.5), (accel_comp, GREEN, "Compensated PID", 167)):
    line([4.53, 4.9] + grid(5, 0.1, values) + [20.67], [0, 0] + values + [0], color, 8, axes=("x2", "y2"))
    key_only(color, 6, label, key_entry(2291, row, 30, 76))
source_box(2, [4.73, 5.33], [-5.1, 13.25])
source_box(2, [12.84, 13.89], [-12.25, 10.7])
source_box(2, [19.73, 20.46], [-14.1, 4.5])
inset_axes(8, (1510.4, 59.4, 1707, 342.4), [4.73, 5.33], [-5.3, 13.1], 0.1, 3)
for values, color in ((inset_b1_pid, BLUE), (inset_b1_fuzzy, RED), (inset_b1_comp, GREEN)):
    line(grid(4.73, 0.0205, values), values, color, 2.2, axes=("x8", "y8"), shape="hv")
inset_axes(9, (1626.6, 512.7, 1937, 786.7), [12.84, 13.89], [-12.25, 10.7], 0.25, 2.5)
for values, color in ((inset_b2_pid, BLUE), (inset_b2_fuzzy, RED), (inset_b2_comp, GREEN)):
    line(grid(12.84, 0.0256, values), values, color, 2.2, axes=("x9", "y9"), shape="hv")
inset_axes(10, (2284.8, 521, 2517, 786.7), [19.73, 20.46], [-14.1, 4.5], 0.15, 3)
for values, color in ((inset_b3_pid, BLUE), (inset_b3_fuzzy, RED), (inset_b3_comp, GREEN)):
    line(grid(19.73, 0.0212, values), values, color, 2.2, axes=("x10", "y10"), shape="hv")
connector((1495, 356.4), (1707, 342.4))
connector((1495, 356.4), (1510.4, 59.4))
connector((2042.4, 429), (1626.6, 512.7))
connector((2042.4, 429), (1937, 786.7))
connector((2545, 477.6), (2284.8, 521))
connector((2545, 477.6), (2517, 786.7))

# ---------- (c) ----------
main_axes(3, (2736, 71.5, 3913, 788), [4.8, 20.9], [-300, 300], [5, 10, 15, 20], list(range(-300, 301, 100)),
          "Time [s]", "Jerk [rad/s\u00b3]", LIGHT, 32, 34, 9, 2)
key_frame(3618.5, 652.7, 3894, 760, "#555555")
for values, color, label, row in ((jerk_pid, BLUE, "PID", 672), (jerk_fuzzy, RED, "Fuzzy", 706), (jerk_comp, GREEN, "Compensated PID", 740)):
    line([4.8, 4.9] + grid(5, 0.1, values) + [20.9], [0, 0] + values + [0], color, 8, axes=("x3", "y3"))
    key_only(color, 5.5, label, key_entry(3620, row, 27, 67))
source_box(3, [4.75, 5.37], [-120, 123])
source_box(3, [13.25, 13.86], [-96, 148])
source_box(3, [19.87, 20.39], [-133, 126])
inset_axes(11, (2807, 72.7, 3076.4, 309), [4.75, 5.37], [-120, 123], 0.15, 50)
for values, color in ((inset_c1_pid, BLUE), (inset_c1_fuzzy, RED), (inset_c1_comp, GREEN)):
    line(grid(4.75, 0.02, values), values, color, 2.2, axes=("x11", "y11"), shape="hv")
inset_axes(12, (2789.7, 560.6, 3152.6, 783.6), [13.25, 13.86], [-96, 148], 0.15, 50)
for values, color in ((inset_c2_pid, BLUE), (inset_c2_fuzzy, RED), (inset_c2_comp, GREEN)):
    line(grid(13.25, 0.0204, values), values, color, 2.2, axes=("x12", "y12"), shape="hv")
inset_axes(13, (3556, 72.7, 3824.7, 274), [19.87, 20.39], [-133, 126], 0.13, 50)
for values, color in ((inset_c3_pid, BLUE), (inset_c3_fuzzy, RED), (inset_c3_comp, GREEN)):
    line(grid(19.87, 0.0168, values), values, color, 2.2, axes=("x13", "y13"), shape="hv")
connector((2777.5, 427), (2807, 72.7))
connector((2777.5, 427), (3076.4, 309))
connector((3353.5, 398.8), (2789.7, 560.6))
connector((3353.5, 398.8), (3152.6, 783.6))
connector((3837.7, 356.4), (3556, 274))
connector((3837.7, 356.4), (3824.7, 72.7))

# ---------- (d) ----------
main_axes(4, (120, 1122, 1309, 1833), [0.104, 20.32], [-2, 12], list(range(2, 21, 2)), list(range(-2, 13, 2)),
          "Time [s]", "Control Signal <i>u</i>(<i>t</i>)", DOTTED, 33, 39, 9, 9)
key_frame(946, 1698.6, 1217, 1790, "#000000")
line(control_pid_t, control_pid, "rgba(52,80,159,0.22)", 20, axes=("x4", "y4"))
line([0.1, 4.95] + grid(5, 0.1, control_fuzzy) + [20.32], [0, 0] + control_fuzzy + [control_fuzzy[-1]], RED, 4.5, axes=("x4", "y4"))
key_only(RED, 3.5, "Fuzzy", key_entry(949, 1743, 25, 76))
line([0.1, 4.95] + grid(5, 0.1, control_comp) + [20.32], [0, 0] + control_comp + [control_comp[-1]], GREEN, 6, axes=("x4", "y4"))
key_only(GREEN, 5, "Compensated PID", key_entry(949, 1772, 25, 76))
line(control_pid_t, control_pid, BLUE, 5.5, axes=("x4", "y4"), name="PID (Highlighted)", key=key_entry(949, 1714.6, 25, 76))
source_box(4, [9.72, 10.8], [-1.86, 12], width=3)
inset_axes(14, (120, 1119, 488, 1422.5), [9.72, 10.8], [3.5, 10], 0.18, 1.2, grid_color="#b4b4b4", dash="dot")
for values, color, thick in ((inset_d_fuzzy, RED, 2.6), (inset_d_comp, GREEN, 2.6), (inset_d_pid, BLUE, 3.6)):
    line(grid(9.72, 0.0272, values), values, color, thick, axes=("x14", "y14"), shape="hv")
connector((686, 1475.4), (120, 1422.5))
connector((686, 1475.4), (488, 1119))

# ---------- (e) ----------
main_axes(5, (1420, 1136, 2613, 1837), [4.22, 21.13], [0, 16], [5, 10, 15, 20], list(range(0, 17, 2)),
          "Time [s]", "Absolute Error [RPM]", DOTTED, 33, 39, 9, 9)
shade(5, 5, 6)
shade(5, 20, 21)
key_frame(1460.8, 1153, 1780, 1263, "#000000")
for values, color, thick, key_width, label, row in ((error_pid, BLUE, 5.5, 5.5, "PID", 1173), (error_fuzzy, RED, 6, 4, "Fuzzy", 1208), (error_comp, GREEN, 7.5, 5.5, "Compensated PID", 1243)):
    sample_t = grid(5, 0.1, values)
    # The dense samples read as a solid band down to the error floor
    fig.add_trace(go.Scatter(x=sample_t + [sample_t[-1], sample_t[0]], y=values + [error_floor, error_floor],
                             mode="lines", fill="toself", fillcolor=color, line=dict(color=color, width=1, shape="hv"),
                             xaxis="x5", yaxis="y5", showlegend=False, hoverinfo="skip"))
    line([4.22, 4.95] + sample_t + [21.13], [0, 0] + values + [0], color, thick, axes=("x5", "y5"), shape="hv")
    key_only(color, key_width, label, key_entry(1463, row, 30, 77))
source_box(5, [8.33, 8.89], [-0.05, 12.2], width=3)
inset_axes(15, (1801.7, 1159.7, 2118, 1508), [8.33, 8.89], [0, 12.2], 0.18, 2, grid_color="#b4b4b4", dash="dot")
for values, color in ((inset_e_pid, BLUE), (inset_e_fuzzy, RED), (inset_e_comp, GREEN)):
    line(grid(8.33, 0.0186, values), values, color, 2.6, axes=("x15", "y15"), shape="hv")
connector((1749.5, 1572), (1801.7, 1159.7))
connector((1749.5, 1572), (2118, 1508))

# ---------- (f) ----------
main_axes(6, (2732.5, 1114, 3913, 1837), [0, 24], [0, 38.76], [0, 5, 10, 15, 20], list(range(0, 36, 5)),
          "Time [s]", "Accumulated Error [RPM \u00b7 s]", DOTTED, 34, 40, 2, 22)
shade(6, 5, 6)
shade(6, 20, 21)
key_frame(3409.8, 1726.7, 3896.5, 1816, "#000000")
line(accum_pid_t, accum_pid, BLUE, 5, axes=("x6", "y6"))
line(accum_fuzzy_t, accum_fuzzy, RED, 5, axes=("x6", "y6"))
line(accum_comp_t, accum_comp, GREEN, 5, axes=("x6", "y6"))
line(fit_pid_t, [slope_pid * (t - onset_pid) for t in fit_pid_t], BLUE, 3.5, axes=("x6", "y6"), dash=LONG_DASH,
     name=f"PID slope \u00a0= {slope_pid:.3f} RPM/s", key=key_entry(3412, 1743, 27, 85))
line(fit_fuzzy_t, [slope_fuzzy * (t - onset_fuzzy) for t in fit_fuzzy_t], RED, 3.5, axes=("x6", "y6"), dash=LONG_DASH,
     name=f"Fuzzy slope \u00a0= {slope_fuzzy:.3f} RPM/s", key=key_entry(3412, 1771, 27, 85))
line(fit_comp_t, [slope_comp * (t - onset_comp) for t in fit_comp_t], GREEN, 3.5, axes=("x6", "y6"), dash=LONG_DASH,
     name=f"Comp. PID slope \u00a0= {slope_comp:.3f} RPM/s", key=key_entry(3412, 1799, 27, 85))
source_box(6, [5.07, 6.25], [0.24, 4.8])
inset_axes(16, (2803.5, 1185, 3155, 1545.5), [5.05, 6.05], [0.5, 3.2], 0.2, 0.55, grid_color="#b4b4b4", dash="dot")
shapes.append(dict(type="rect", xref="x16", yref="y16", x0=5.05, x1=6.05, y0=0.5, y1=3.2,
                   fillcolor=SHADE, line=dict(width=0), layer="below"))
for values, color in ((inset_f_pid, BLUE), (inset_f_fuzzy, RED), (inset_f_comp, GREEN)):
    line(grid(5.05, 0.0246, values), values, color, 2.6, axes=("x16", "y16"), shape="hv")
line(inset_f_fit_t, inset_f_fit, GREEN, 2.2, axes=("x16", "y16"), dash="dash")
connector((3011.4, 1747.7), (2803.5, 1545.5))
connector((3011.4, 1747.7), (3155, 1545.5))

# ---------- panel letters ----------
for letter, x, y in (("a", 657, 965), ("b", 1957, 960), ("c", 3258, 960), ("d", 657, 2017), ("e", 1957, 2017), ("f", 3256, 2017)):
    panel_label(letter, x, y)

fig.update_layout(
    width=WIDTH, height=HEIGHT, autosize=False, template="none",
    paper_bgcolor="white", plot_bgcolor="white",
    margin=dict(l=0, r=0, t=0, b=0, pad=0),
    shapes=shapes, annotations=annotations,
    **legends, **layout_axes,
)

fig.write_html("out.html")
